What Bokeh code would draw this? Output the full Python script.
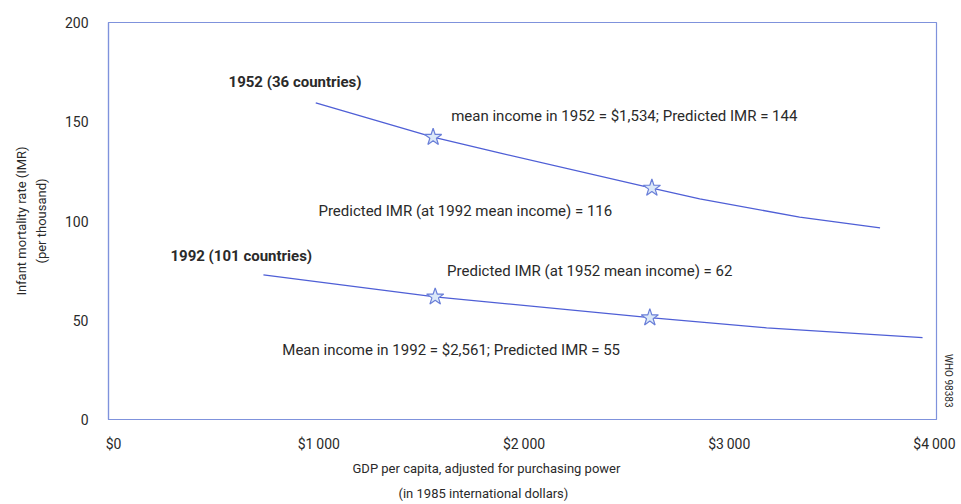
from bokeh.plotting import figure
from bokeh.models import Range1d, FixedTicker, Title
from bokeh.core.properties import value
from bokeh.embed import file_html
from bokeh.resources import INLINE

# ---- data ----
gdp_1952 = [985, 1557, 1885, 2623, 2856, 3343, 3735]
imr_1952 = [159.5, 142.2, 134.2, 116.6, 111.1, 102.0, 96.5]
gdp_1992 = [730, 1567, 2613, 3182, 3942]
imr_1992 = [72.9, 61.8, 51.3, 46.2, 41.2]
star_gdp = [1557, 2623, 1567, 2613]
star_imr = [142.2, 116.6, 61.8, 51.3]

x_ticks = [0, 1000, 2000, 3000, 4000]
x_tick_labels = ["$0", "$1\u2009000", "$2\u2009000", "$3\u2009000", "$4\u2009000"]
y_ticks = [0, 50, 100, 150, 200]

ann_text = ["1952 (36 countries)",
            "mean income in 1952 = $1,534; Predicted IMR = 144",
            "Predicted IMR (at 1992 mean income) = 116",
            "1992 (101 countries)",
            "Predicted IMR (at 1952 mean income) = 62",
            "Mean income in 1992 = $2,561; Predicted IMR = 55"]
ann_x = [560, 1645, 998, 277, 1625, 822]
ann_y = [169.8, 152.8, 105.0, 82.4, 74.9, 35.2]
ann_bold = [True, False, False, True, False, False]

x_title_lines = ["GDP per capita, adjusted for purchasing power",
                 "(in 1985 international dollars)"]
y_title = "Infant mortality rate (IMR)\n(per thousand)"
credit = "WHO 98383"

FONT = "Roboto"
TXT = "#2a2a2a"
BLUE = "#4f5fd6"
FRAME = "#7f92dc"

p = figure(width=961, height=504, output_backend="svg", toolbar_location=None,
           x_range=Range1d(-25, 4010), y_range=Range1d(0, 200),
           min_border_left=108, min_border_top=22, min_border_right=24, min_border_bottom=84)

p.xgrid.visible = False
p.ygrid.visible = False
p.outline_line_color = FRAME
p.outline_line_width = 1.2
p.background_fill_color = "white"
p.border_fill_color = "white"

# axes
p.xaxis.ticker = FixedTicker(ticks=x_ticks)
p.xaxis.major_label_overrides = {t: l for t, l in zip(x_ticks, x_tick_labels)}
p.yaxis.ticker = FixedTicker(ticks=y_ticks)
for ax in (p.xaxis, p.yaxis):
    ax.major_tick_line_color = None
    ax.minor_tick_line_color = None
    ax.axis_line_color = FRAME
    ax.axis_line_width = 1.2
    ax.major_label_text_font = FONT
    ax.major_label_text_font_size = "14px"
    ax.major_label_text_color = TXT
    ax.axis_label_text_font = FONT
    ax.axis_label_text_font_size = "13px"
    ax.axis_label_text_font_style = "normal"
    ax.axis_label_text_color = TXT
p.xaxis.major_label_standoff = 10
p.yaxis.major_label_standoff = 14
p.yaxis.axis_label = y_title
p.yaxis.axis_label_text_line_height = 1.3
p.yaxis.axis_label_standoff = 13

# x-axis title, two lines, left of the frame centre as in the original
x_title_offsets = [244, 290]
for line, off in zip(x_title_lines, x_title_offsets):
    p.add_layout(Title(text=line, align="left", offset=off, text_font=FONT,
                       text_font_size="13px", text_font_style="normal",
                       text_color=TXT, standoff=8), "below")

# curves
p.line(gdp_1952, imr_1952, line_color=BLUE, line_width=1.3)
p.line(gdp_1992, imr_1992, line_color=BLUE, line_width=1.3)
p.scatter(star_gdp, star_imr, marker="star", size=18,
          fill_color="#dbe8f8", line_color="#6a7fd8", line_width=1.2)

# annotations
for t, x, y, b in zip(ann_text, ann_x, ann_y, ann_bold):
    p.text(x=[x], y=[y], text=[t], text_font=value(FONT), text_font_size="15px",
           text_font_style="bold" if b else "normal", text_color=TXT,
           text_align="left", text_baseline="middle")

p.add_layout(Title(text=credit, align="right", offset=12, text_font=FONT,
                   text_font_size="10px", text_font_style="normal",
                   text_color=TXT, standoff=12), "right")

open("out.html", "w").write(file_html(p, INLINE))
